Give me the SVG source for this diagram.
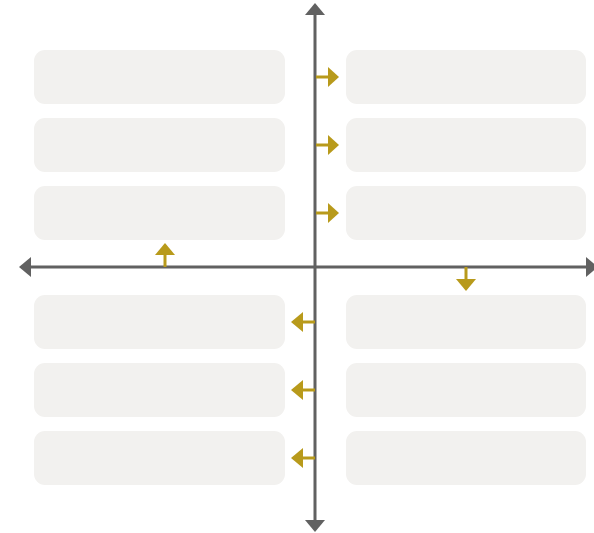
<svg xmlns="http://www.w3.org/2000/svg" width="594" height="533" viewBox="0 0 594 533">
  <style>
    .box { fill: #F2F1EF; }
    .axis { stroke: #616161; stroke-width: 3; fill: none; }
    .axhead { fill: #616161; }
    .ptr { stroke: #B89A1B; stroke-width: 3; fill: none; }
    .ptrhead { fill: #B89A1B; }
  </style>
  <rect width="594" height="533" fill="#FFFFFF"/>

  <!-- left column cards -->
  <g id="card-left-1"><rect class="box" x="34" y="50" width="251" height="54" rx="11"/></g>
  <g id="card-left-2"><rect class="box" x="34" y="118" width="251" height="54" rx="11"/></g>
  <g id="card-left-3"><rect class="box" x="34" y="186" width="251" height="54" rx="11"/></g>
  <g id="card-left-4"><rect class="box" x="34" y="295" width="251" height="54" rx="11"/></g>
  <g id="card-left-5"><rect class="box" x="34" y="363" width="251" height="54" rx="11"/></g>
  <g id="card-left-6"><rect class="box" x="34" y="431" width="251" height="54" rx="11"/></g>

  <!-- right column cards -->
  <g id="card-right-1"><rect class="box" x="346" y="50" width="240" height="54" rx="11"/></g>
  <g id="card-right-2"><rect class="box" x="346" y="118" width="240" height="54" rx="11"/></g>
  <g id="card-right-3"><rect class="box" x="346" y="186" width="240" height="54" rx="11"/></g>
  <g id="card-right-4"><rect class="box" x="346" y="295" width="240" height="54" rx="11"/></g>
  <g id="card-right-5"><rect class="box" x="346" y="363" width="240" height="54" rx="11"/></g>
  <g id="card-right-6"><rect class="box" x="346" y="431" width="240" height="54" rx="11"/></g>

  <g id="connectors">
    <!-- axes -->
    <line class="axis" x1="315" y1="12" x2="315" y2="522"/>
    <line class="axis" x1="28" y1="267" x2="588" y2="267"/>
    <polygon class="axhead" points="315,3 305,15 325,15"/>
    <polygon class="axhead" points="315,532 305,520 325,520"/>
    <polygon class="axhead" points="19,267 31,257 31,277"/>
    <polygon class="axhead" points="598,267 586,257 586,277"/>

    <!-- right-pointing markers, upper half -->
    <line class="ptr" x1="316" y1="77" x2="329" y2="77"/>
    <polygon class="ptrhead" points="339,77 328,67 328,87"/>
    <line class="ptr" x1="316" y1="145" x2="329" y2="145"/>
    <polygon class="ptrhead" points="339,145 328,135 328,155"/>
    <line class="ptr" x1="316" y1="213" x2="329" y2="213"/>
    <polygon class="ptrhead" points="339,213 328,203 328,223"/>

    <!-- left-pointing markers, lower half -->
    <line class="ptr" x1="315" y1="322" x2="302" y2="322"/>
    <polygon class="ptrhead" points="291,322 303,312 303,332"/>
    <line class="ptr" x1="315" y1="390" x2="302" y2="390"/>
    <polygon class="ptrhead" points="291,390 303,380 303,400"/>
    <line class="ptr" x1="315" y1="458" x2="302" y2="458"/>
    <polygon class="ptrhead" points="291,458 303,448 303,468"/>

    <!-- markers on the horizontal axis -->
    <line class="ptr" x1="165" y1="267" x2="165" y2="254"/>
    <polygon class="ptrhead" points="165,243 155,255 175,255"/>
    <line class="ptr" x1="466" y1="267" x2="466" y2="280"/>
    <polygon class="ptrhead" points="466,291 456,279 476,279"/>
  </g>
</svg>
